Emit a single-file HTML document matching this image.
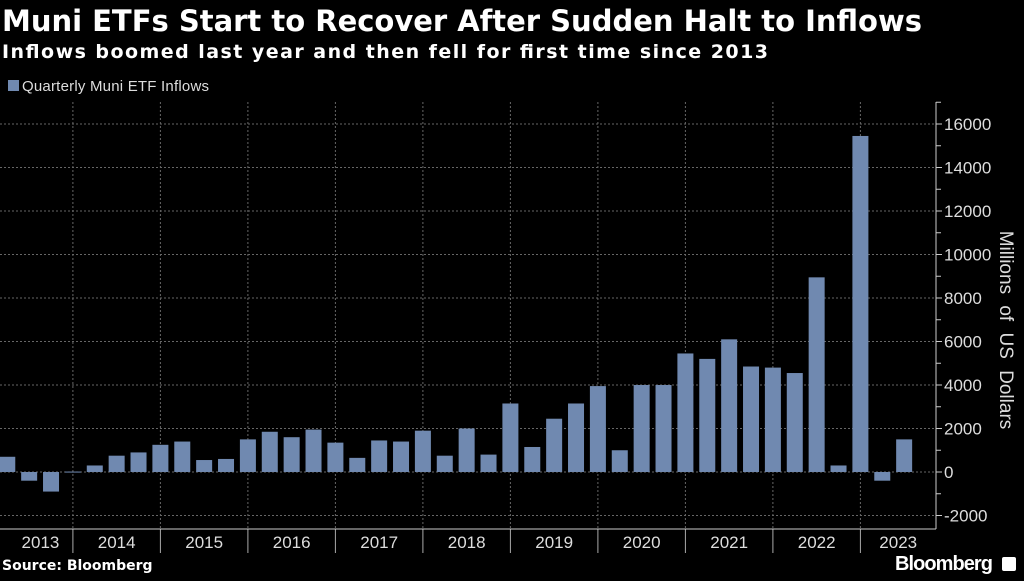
<!DOCTYPE html>
<html><head><meta charset="utf-8"><style>
body{margin:0;background:#000;width:1024px;height:576px;overflow:hidden;font-family:"Liberation Sans","DejaVu Sans",sans-serif}
</style></head><body>
<svg width="1024" height="576" xmlns="http://www.w3.org/2000/svg">
<text x="2" y="31" fill="#fff" font-size="29" font-weight="bold" font-family="DejaVu Sans, sans-serif" textLength="920">Muni ETFs Start to Recover After Sudden Halt to Inflows</text>
<text x="2" y="58" fill="#fff" font-size="19" font-weight="bold" font-family="DejaVu Sans, sans-serif" textLength="766">Inflows boomed last year and then fell for first time since 2013</text>
<g>
<rect x="8" y="80" width="11" height="11" fill="#7089b0"/>
<text x="22" y="91" fill="#ddd" font-size="15" textLength="187">Quarterly Muni ETF Inflows</text>
</g>
<g id="grid"></g><g id="bars"></g><g id="axes"></g>
<text x="1000" y="330" fill="#ddd" font-size="19" text-anchor="middle" transform="rotate(90 1000 330)" word-spacing="6">Millions of US Dollars</text>
<text x="2" y="570" fill="#fff" font-size="14" font-weight="bold" font-family="DejaVu Sans, sans-serif">Source: Bloomberg</text>
<text x="895" y="570" fill="#fff" font-size="20" font-weight="bold" textLength="98">Bloomberg</text>
<rect x="1002" y="557" width="14" height="14" fill="#fff" rx="2"/>
</svg>
<script>
const years=["2013","2014","2015","2016","2017","2018","2019","2020","2021","2022","2023"];
const values=[0.7,-0.4,-0.9,0.02, 0.3,0.75,0.9,1.25, 1.4,0.55,0.6,1.5, 1.85,1.6,1.95,1.35, 0.65,1.45,1.4,1.9, 0.75,2.0,0.8,3.15, 1.15,2.45,3.15,3.95, 1.0,4.0,4.0,5.45, 5.2,6.1,4.85,4.8, 4.55,8.95,0.3,15.45, -0.4,1.5];
const yTicks=[-2000,0,2000,4000,6000,8000,10000,12000,14000,16000];
const NS="http://www.w3.org/2000/svg";
const x0=-14.6,yw=87.5,qw=yw/4,axisX=936,axisBottom=529,axisTop=102;
const y=v=>472-v*0.02175;
const xYear=i=>x0+i*yw;
const xBar=i=>x0+(i+1)*qw;
function mk(t,a,p){const e=document.createElementNS(NS,t);for(const k in a)e.setAttribute(k,a[k]);p.appendChild(e);return e;}
const grid=document.getElementById('grid'),bars=document.getElementById('bars'),axes=document.getElementById('axes');
yTicks.forEach(t=>{
 const g=mk('line',{x1:0,x2:axisX,y1:y(t),y2:y(t),stroke:'#666','stroke-dasharray':'2,2','stroke-width':1},grid);
 
 
 const tk=mk('line',{x1:axisX,x2:axisX+6,y1:y(t),y2:y(t),stroke:'#ccc'},axes);
 
 
 const mt=mk('line',{x1:axisX,x2:axisX+5,y1:y(t+1000),y2:y(t+1000),stroke:'#ccc'},axes);
 
 
 const lb=mk('text',{x:axisX+8,y:y(t)+6,fill:'#ddd','font-size':17},axes);
 lb.textContent=(t<0?'-':'')+Math.abs(t);
 
 
});
years.forEach((yr,i)=>{
 const xs=xYear(i);
 if(i>0){
  const vg=mk('line',{x1:xs,x2:xs,y1:axisTop,y2:axisBottom,stroke:'#666','stroke-dasharray':'2,2'},grid);
  
  
  const tk=mk('line',{x1:xs,x2:xs,y1:axisBottom,y2:553,stroke:'#aaa'},axes);
  
  
 }
 const xe=Math.min(xYear(i+1),axisX);
 const lb=mk('text',{x:(Math.max(xs,0)+xe)/2+(i==0?4:0),y:548,fill:'#ddd','font-size':17,'text-anchor':'middle'},axes);
 lb.textContent=yr;
 
 
});
values.forEach((v,i)=>{
 const c=xBar(i),val=v*1000;
 const r=mk('rect',{x:c-8,width:16,y:Math.min(y(0),y(val)),height:Math.max(1,Math.abs(y(val)-y(0))),fill:'#7089b0'},bars);
 
 
});
const ax=mk('line',{x1:axisX,x2:axisX,y1:axisTop,y2:axisBottom,stroke:'#ccc'},axes);


const bx=mk('line',{x1:0,x2:axisX,y1:axisBottom,y2:axisBottom,stroke:'#ccc'},axes);


</script>
</body></html>
